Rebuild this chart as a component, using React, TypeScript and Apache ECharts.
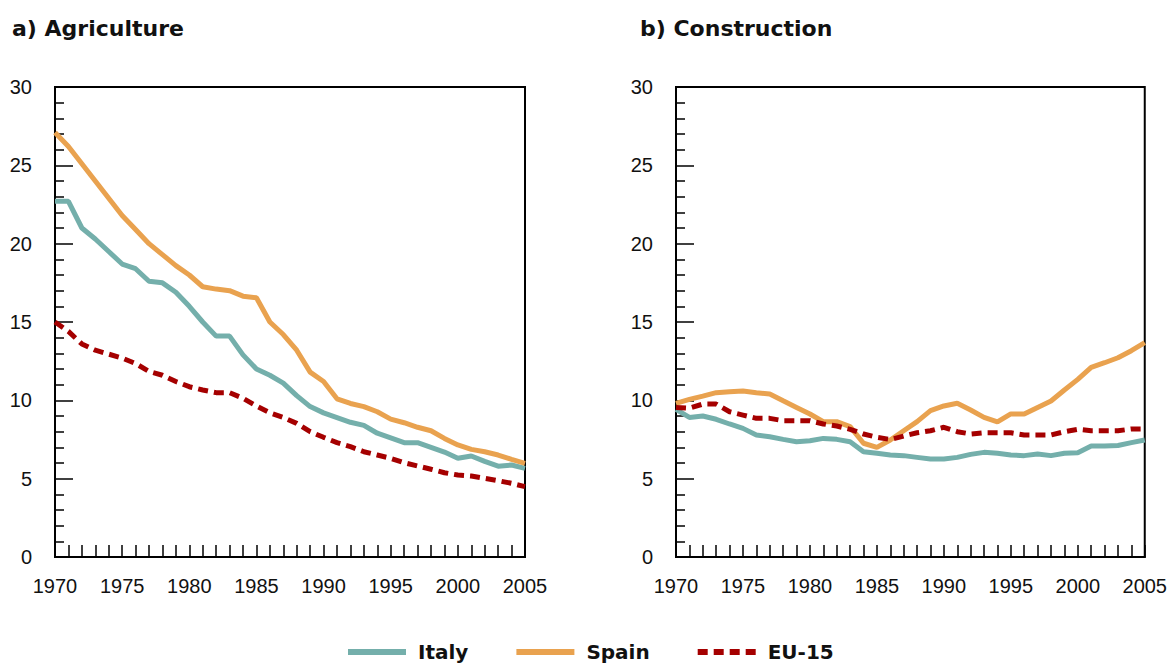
import React, { useEffect, useRef } from "react";
import * as echarts from "echarts";

const years = [
  1970, 1971, 1972, 1973, 1974, 1975, 1976, 1977, 1978, 1979, 1980, 1981, 1982, 1983, 1984, 1985, 1986, 1987,
  1988, 1989, 1990, 1991, 1992, 1993, 1994, 1995, 1996, 1997, 1998, 1999, 2000, 2001, 2002, 2003, 2004, 2005,
];

const agriItaly = [
  22.7, 22.7, 21.0, 20.3, 19.5, 18.7, 18.4, 17.6, 17.5, 16.9, 16.0, 15.0, 14.1, 14.1, 12.9, 12.0, 11.6, 11.1,
  10.3, 9.6, 9.2, 8.9, 8.6, 8.4, 7.9, 7.6, 7.3, 7.3, 7.0, 6.7, 6.3, 6.45, 6.1, 5.8, 5.87, 5.66,
];
const agriSpain = [
  27.1, 26.2, 25.1, 24.0, 22.9, 21.8, 20.9, 20.0, 19.3, 18.6, 18.0, 17.25, 17.1, 17.0, 16.65, 16.55, 15.0, 14.2,
  13.2, 11.8, 11.2, 10.1, 9.8, 9.6, 9.27, 8.8, 8.57, 8.28, 8.06, 7.57, 7.15, 6.87, 6.72, 6.51, 6.23, 5.98,
];
const agriEU = [
  15.0, 14.4, 13.6, 13.2, 12.95, 12.7, 12.35, 11.85, 11.6, 11.2, 10.87, 10.66, 10.49, 10.49, 10.13, 9.64, 9.21, 8.91,
  8.53, 8.0, 7.64, 7.3, 7.04, 6.72, 6.51, 6.3, 6.02, 5.81, 5.6, 5.38, 5.23, 5.17, 5.02, 4.87, 4.7, 4.49,
];

const consItaly = [
  9.42, 8.91, 9.0, 8.79, 8.49, 8.21, 7.79, 7.68, 7.51, 7.36, 7.42, 7.57, 7.51, 7.36, 6.72, 6.62, 6.51, 6.47,
  6.36, 6.25, 6.25, 6.36, 6.55, 6.68, 6.62, 6.51, 6.47, 6.57, 6.47, 6.62, 6.66, 7.08, 7.08, 7.12, 7.3, 7.47,
];
const consSpain = [
  9.81, 10.06, 10.27, 10.49, 10.55, 10.59, 10.49, 10.4, 9.97, 9.55, 9.13, 8.64, 8.64, 8.32, 7.26, 7.0, 7.47, 8.06,
  8.64, 9.34, 9.64, 9.81, 9.38, 8.91, 8.62, 9.13, 9.13, 9.55, 9.96, 10.66, 11.34, 12.1, 12.4, 12.72, 13.17, 13.68,
];
const consEU = [
  9.55, 9.5, 9.76, 9.76, 9.27, 9.06, 8.85, 8.85, 8.7, 8.7, 8.7, 8.49, 8.36, 8.15, 7.85, 7.64, 7.5, 7.72,
  7.93, 8.06, 8.28, 8.0, 7.85, 7.93, 7.93, 7.93, 7.79, 7.79, 7.79, 8.0, 8.15, 8.06, 8.06, 8.06, 8.17, 8.17,
];

const titles = ["a) Agriculture", "b) Construction"];
const seriesNames = ["Italy", "Spain", "EU-15"];
const colors = ["#74AFAB", "#E9A24F", "#A50000"];

const TICK_FONT = "'Liberation Sans', Arial, sans-serif";
const BOLD_FONT = "'DejaVu Sans', Verdana, sans-serif";

export default function App() {
  const ref = useRef<HTMLDivElement>(null);
  useEffect(() => {
    if (!ref.current) return;
    const chart = echarts.init(ref.current, undefined, { renderer: "svg" });
    const grids = [
      { left: 55, top: 87, width: 470, height: 470 },
      { left: 676, top: 87, width: 469, height: 470 },
    ];
    const xAxes = grids.map((_, i) => ({
      type: "value",
      gridIndex: i,
      min: 1970,
      max: 2005,
      interval: 5,
      axisLine: { show: true, lineStyle: { color: "#000", width: 2 } },
      axisTick: { show: true, inside: true, length: 12, lineStyle: { color: "#000", width: 1.5 } },
      minorTick: { show: true, splitNumber: 5, length: 12, lineStyle: { color: "#000", width: 1.5 } },
      splitLine: { show: false },
      minorSplitLine: { show: false },
      axisLabel: {
        margin: 19,
        fontSize: 20,
        color: "#111",
        fontFamily: TICK_FONT,
        formatter: (v: number) => String(v),
      },
    }));
    const yAxes = grids.map((_, i) => ({
      type: "value",
      gridIndex: i,
      min: 0,
      max: 30,
      interval: 5,
      axisLine: { show: true, lineStyle: { color: "#000", width: 2 } },
      axisTick: { show: true, inside: true, length: 18, lineStyle: { color: "#000", width: 1.5 } },
      minorTick: { show: true, splitNumber: 5, length: 9, lineStyle: { color: "#000", width: 1.5 } },
      splitLine: { show: false },
      minorSplitLine: { show: false },
      axisLabel: { margin: 23, fontSize: 20, color: "#111", fontFamily: TICK_FONT },
    }));
    const mk = (name: string, idx: number, data: number[], color: string, dashed: boolean) => ({
      name,
      type: "line",
      xAxisIndex: idx,
      yAxisIndex: idx,
      data: years.map((y, k) => [y, data[k]]),
      showSymbol: false,
      symbol: "none",
      color,
      lineStyle: { color, width: 5, type: dashed ? [10, 6] : "solid", cap: "butt" },
      z: dashed ? 3 : 2,
    });
    const panels = [
      [agriItaly, agriSpain, agriEU],
      [consItaly, consSpain, consEU],
    ];
    const series: any[] = [];
    panels.forEach((p, i) => {
      p.forEach((d, j) => series.push(mk(seriesNames[j], i, d, colors[j], j === 2)));
    });
    chart.setOption({
      animation: false,
      backgroundColor: "#fff",
      title: [
        { text: titles[0], left: 7, top: 12, textStyle: { fontFamily: BOLD_FONT, fontWeight: "bold", fontSize: 22, color: "#111" } },
        { text: titles[1], left: 635, top: 12, textStyle: { fontFamily: BOLD_FONT, fontWeight: "bold", fontSize: 22, color: "#111" } },
      ],
      grid: grids.map((g) => ({ ...g, show: true, borderColor: "#000", borderWidth: 2, backgroundColor: "transparent" })),
      xAxis: xAxes,
      yAxis: yAxes,
      legend: {
        data: seriesNames.map((n) => ({ name: n, itemStyle: { opacity: 0 } })),
        left: 340,
        top: 637,
        itemWidth: 58,
        itemHeight: 14,
        itemGap: 45,
        itemStyle: { opacity: 0 },
        lineStyle: { width: 6 },
        textStyle: { fontFamily: BOLD_FONT, fontWeight: "bold", fontSize: 20, color: "#111", padding: [0, 0, 0, 7] },
      },
      series,
    });
    return () => chart.dispose();
  }, []);
  return <div ref={ref} style={{ position: "absolute", left: 0, top: 0, width: 1170, height: 664 }} />;
}
